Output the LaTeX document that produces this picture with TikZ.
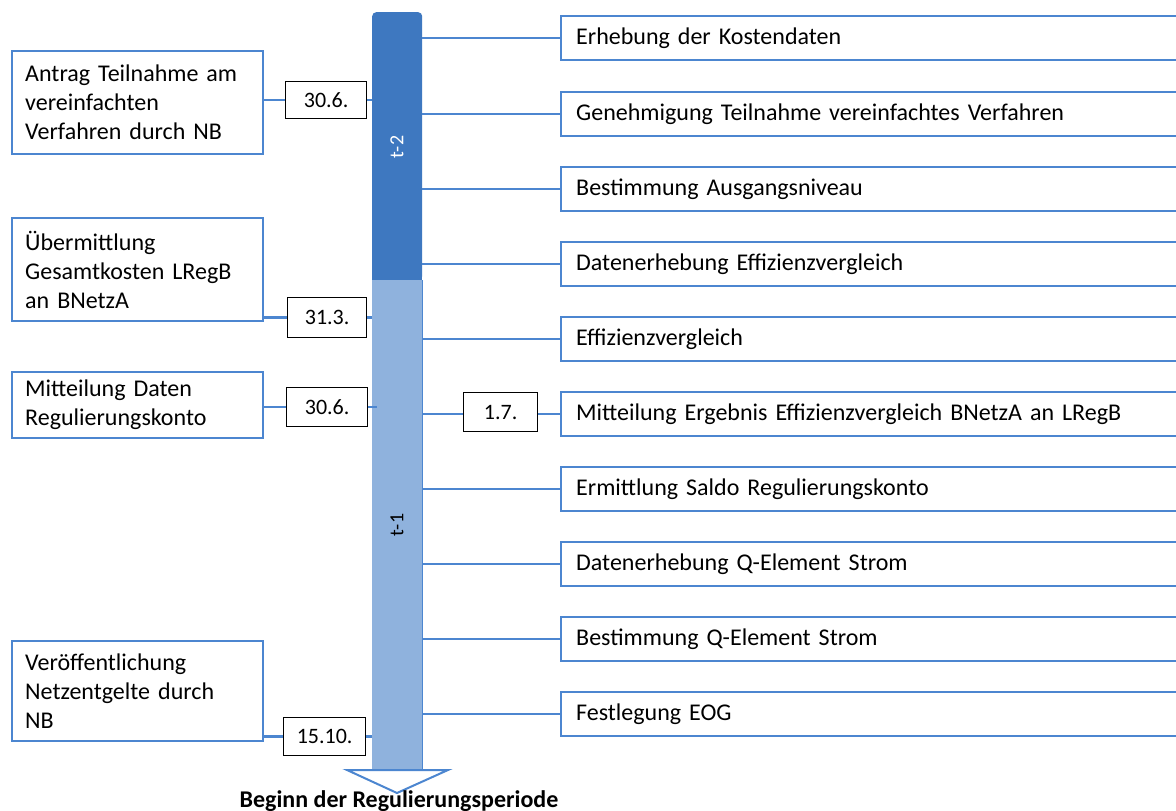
\documentclass[tikz,border=0pt]{standalone}
\usepackage{fontspec}
\setmainfont{Carlito}
\begin{document}
\begin{tikzpicture}[x=1pt,y=-1pt,
  line/.style={draw=lineblue,line width=2.4pt},
  lbox/.style={draw=lineblue,line width=2.4pt,fill=white,minimum width=251pt,
    text width=225pt,align=left,inner xsep=13pt,anchor=north west,
    font=\fontsize{24}{29}\selectfont},
  rbox/.style={draw=lineblue,line width=2.4pt,fill=white,minimum width=640pt,
    minimum height=44pt,text width=610pt,align=left,inner xsep=14pt,anchor=north west,
    font=\fontsize{24}{29}\selectfont},
  datebox/.style={draw=black,line width=1.3pt,fill=white,anchor=north west,
    font=\fontsize{22}{24}\selectfont,inner sep=0pt},
  barpart/.style={minimum width=50pt,inner sep=0pt,anchor=north west},
]
\definecolor{lineblue}{RGB}{76,134,208}
\definecolor{darkbar}{RGB}{62,120,192}
\definecolor{lightbar}{RGB}{143,178,221}
\clip (0,0) rectangle (1176,811);
\fill[white] (0,0) rectangle (1176,811);

% timeline bar: t-2 (dark, rounded top) and t-1 (light)
\node[barpart,minimum height=268pt,fill=darkbar,rounded corners=4pt] (t2) at (372,12) {};
\fill[darkbar] (372,200) rectangle (422,280);
\node[barpart,minimum height=490pt,fill=lightbar] (t1) at (372,280) {};
\draw[lineblue,line width=1.2pt] (t1.north east) -- (t1.south east);
\node[rotate=90,text=white,font=\fontsize{20}{24}\selectfont] (l2) at (397,147) {t-2};
\node[rotate=90,text=black,font=\fontsize{20}{24}\selectfont] (l1) at (397,525) {t-1};

% arrow head and label
\draw[lineblue,line width=2pt,fill=white,line join=miter] (347,770) -- (448,770) -- (397,793) -- cycle;
\node[font=\bfseries\fontsize{24}{26}\selectfont,anchor=base,inner sep=0pt] (beginn) at (399,807) {Beginn der Regulierungsperiode};

% right-hand process steps
\foreach \y/\n/\t in {15/r1/Erhebung der Kostendaten,
  91/r2/Genehmigung Teilnahme vereinfachtes Verfahren,
  166/r3/Bestimmung Ausgangsniveau,
  241/r4/Datenerhebung Effizienzvergleich,
  316/r5/Effizienzvergleich,
  391/r6/Mitteilung Ergebnis Effizienzvergleich BNetzA an LRegB,
  466/r7/Ermittlung Saldo Regulierungskonto,
  541/r8/Datenerhebung Q-Element Strom,
  616/r9/Bestimmung Q-Element Strom,
  691/r10/Festlegung EOG}{
  \node[rbox] (\n) at (560,\y) {\t};
}
\foreach \n in {r1,r2,r3,r4,r5,r7,r8,r9,r10}{
  \draw[line] (\n.west -| t1.east) -- (\n.west);
}

% date 1.7. between bar and step
\node[datebox,minimum width=74pt,minimum height=39pt] (d17) at (463,392) {1.7.};
\draw[line] (r6.west -| t1.east) -- (r6.west -| d17.west);
\draw[line] (r6.west -| d17.east) -- (r6.west);

% left-hand milestones
\node[lbox,minimum height=103pt] (a1) at (11,50) {Antrag Teilnahme am\\vereinfachten\\Verfahren durch NB};
\node[lbox,minimum height=103pt] (a2) at (11,217) {Übermittlung\\Gesamtkosten LRegB\\an BNetzA};
\node[lbox,minimum height=66pt] (a3) at (11,371) {Mitteilung Daten\\Regulierungskonto};
\node[lbox,minimum height=100pt] (a4) at (11,640) {Veröffentlichung\\Netzentgelte durch\\NB};

\node[datebox,minimum width=81pt,minimum height=37pt] (d1) at (285,81) {30.6.};
\node[datebox,minimum width=79pt,minimum height=40pt] (d2) at (287,297) {31.3.};
\node[datebox,minimum width=81pt,minimum height=39pt] (d3) at (286,387) {30.6.};
\node[datebox,minimum width=82pt,minimum height=38pt] (d4) at (283,717) {15.10.};

\draw[line] (d1.west -| a1.east) -- (d1.west);
\draw[line] (d1.east) -- (d1.east -| t2.west);
\draw[line] (d2.west -| a2.east) -- (d2.west);
\draw[line] (d2.east) -- (d2.east -| t1.west);
\draw[line] (d3.west -| a3.east) -- (d3.west);
\draw[line] (d3.east) -- ([xshift=5pt]d3.east -| t1.west);
\draw[line] (d4.west -| a4.east) -- (d4.west);
\draw[line] (d4.east) -- (d4.east -| t1.west);
\end{tikzpicture}
\end{document}
